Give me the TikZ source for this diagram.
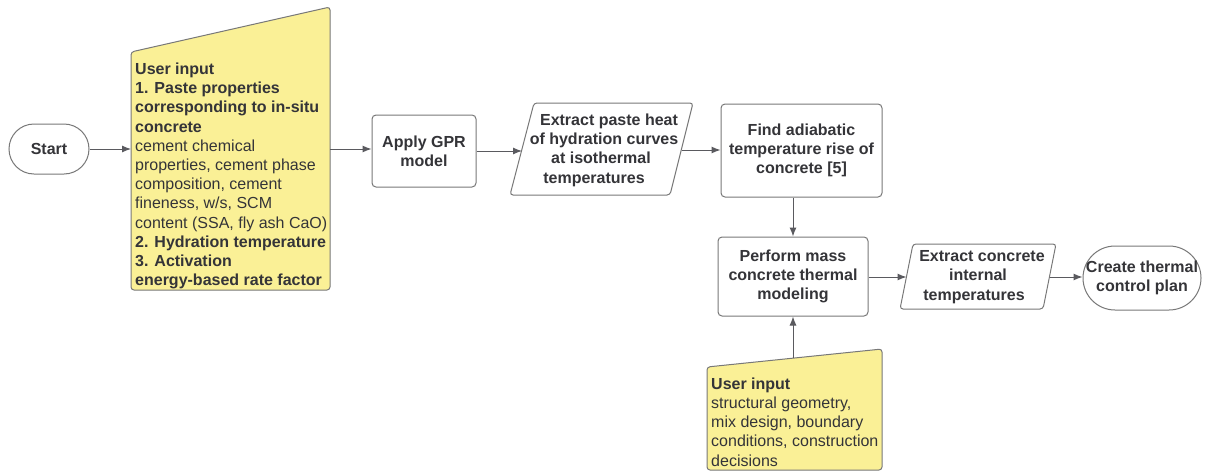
\documentclass[tikz,border=0pt]{standalone}
\usepackage{fontspec}
\setmainfont{Liberation Sans}
\usetikzlibrary{arrows.meta}
\definecolor{txt}{RGB}{52,52,56}
\definecolor{edge}{RGB}{120,120,120}
\definecolor{lnk}{RGB}{90,90,95}
\definecolor{ylw}{RGB}{250,240,150}
\begin{document}
\begin{tikzpicture}[x=1pt,y=-1pt,
  lbl/.style={font=\fontsize{16}{19.3}\selectfont\bfseries, text=txt, align=center, inner sep=0pt},
  intext/.style={font=\fontsize{16}{19.2}\selectfont, text=txt, align=left, inner sep=0pt},
  procbox/.style={draw=edge, line width=1pt, rounded corners=4pt, font=\fontsize{16}{19.3}\selectfont\bfseries, text=txt, align=center, inner sep=0pt},
  termbox/.style={procbox, rounded corners},
  shapeline/.style={draw=edge, line width=1pt, rounded corners=3pt},
  inshape/.style={shapeline, fill=ylw},
  arr/.style={draw=lnk, line width=1pt, -{Latex[length=9pt,width=7pt]}}
]
\fill[white] (0,0) rectangle (1209,471);
\useasboundingbox (0,0) rectangle (1209,471);

% Start terminal
\node[procbox, rounded corners=25pt, minimum width=80pt, minimum height=50pt] (start) at (49,149) {Start};

% User input 1
\path[inshape] (131,52) -- (330,7) -- (330,290) -- (131,290) -- cycle;
\coordinate (in1w) at (131,149);
\coordinate (in1e) at (330,149);
\node[intext, anchor=west] (in1text) at (135,176) {\textbf{User input}\\
\textbf{1. Paste properties}\\
\textbf{corresponding to in-situ}\\
\textbf{concrete}\\
cement chemical\\
properties, cement phase\\
composition, cement\\
fineness, w/s, SCM\\
content (SSA, fly ash CaO)\\
\textbf{2. Hydration temperature}\\
\textbf{3. Activation}\\
\textbf{energy-based rate factor}};

% Apply GPR
\node[procbox, minimum width=104pt, minimum height=72pt] (gpr) at (424,151) {Apply GPR\\model};

% Parallelogram 1
\path[shapeline] (510,195) -- (534,103) -- (693,103) -- (670,195) -- cycle;
\coordinate (p1w) at (522,151);
\coordinate (p1e) at (682,150);
\node[lbl] (p1text) at (601,150) {\hspace*{16pt}Extract paste heat\\\hspace*{6pt}of hydration curves\\at isothermal\hspace*{6pt}\\temperatures\hspace*{14pt}};

% Find adiabatic
\node[procbox, minimum width=161pt, minimum height=93pt] (find) at (801.5,150.5) {Find adiabatic\\temperature rise of\\concrete [5]};

% Perform mass concrete
\node[procbox, minimum width=150pt, minimum height=79pt] (perf) at (793,276.5) {Perform mass\\concrete thermal\\modeling};

% Parallelogram 2
\path[shapeline] (900,309) -- (913,244) -- (1056,244) -- (1043,309) -- cycle;
\coordinate (p2w) at (906.5,277);
\coordinate (p2e) at (1049.5,277);
\node[lbl] (p2text) at (978,277) {\hspace*{8pt}Extract concrete\\internal\\temperatures\hspace*{8pt}};

% Create thermal control plan
\node[procbox, rounded corners=32pt, minimum width=118pt, minimum height=64pt] (create) at (1142,278) {Create thermal\\control plan};

% User input 2
\path[inshape] (707,367) -- (882,349) -- (882,470) -- (707,470) -- cycle;
\coordinate (in2n) at (793,358);
\node[intext, anchor=west] (in2text) at (711,422) {\textbf{User input}\\
structural geometry,\\
mix design, boundary\\
conditions, construction\\
decisions};

% Connectors
\draw[arr] (start.east) -- (in1w);
\draw[arr] (in1e) -- (in1e -| gpr.west);
\draw[arr] (gpr.east) -- (p1w);
\draw[arr] (p1e) -- (p1e -| find.west);
\draw[arr] (perf.north |- find.south) -- (perf.north);
\draw[arr] (perf.east |- p2w) -- (p2w);
\draw[arr] (p2e) -- (p2e -| create.west);
\draw[arr] (in2n) -- (perf.south);
\end{tikzpicture}
\end{document}
